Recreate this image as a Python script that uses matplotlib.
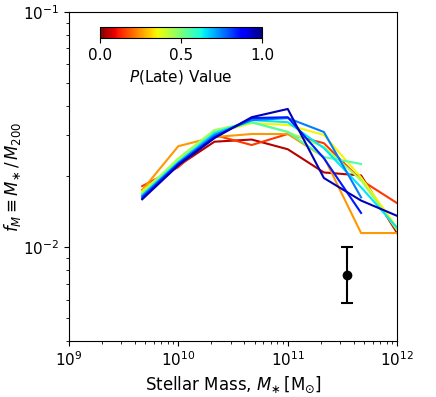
import numpy as np
import matplotlib
matplotlib.use('Agg')
import matplotlib.pyplot as plt
from matplotlib.colors import Normalize
from matplotlib.cm import ScalarMappable

# log10 stellar mass bin centres
log_mass = [9.67, 10.0, 10.33, 10.67, 11.0, 11.33, 11.67, 12.0]

# P(Late) value of each curve
p_late = [0.05, 0.15, 0.25, 0.35, 0.45, 0.55, 0.65, 0.75, 0.85, 0.95]

# f_M per curve (None = no data in that bin)
f_m = [
    [0.0175, 0.0222, 0.0281, 0.0287, 0.0261, 0.0208, 0.0202, 0.0115],
    [0.0182, 0.0219, 0.0300, 0.0272, 0.0303, 0.0277, 0.0193, 0.0154],
    [0.0175, 0.0269, 0.0294, 0.0303, 0.0303, 0.0242, 0.0115, 0.0115],
    [0.0173, 0.0234, 0.0305, 0.0337, 0.0331, 0.0300, 0.0198, 0.0121],
    [0.0170, 0.0239, 0.0315, 0.0340, 0.0309, 0.0267, 0.0193, 0.0118],
    [0.0168, 0.0232, 0.0309, 0.0340, 0.0309, 0.0242, 0.0226, None],
    [0.0166, 0.0230, 0.0305, 0.0347, 0.0340, 0.0264, 0.0180, 0.0121],
    [0.0165, 0.0228, 0.0300, 0.0347, 0.0354, 0.0309, 0.0163, None],
    [0.0162, 0.0226, 0.0294, 0.0354, 0.0357, 0.0239, 0.0140, None],
    [0.0160, 0.0223, 0.0291, 0.0357, 0.0387, 0.0197, 0.0158, 0.0136],
]

# typical error bar
err_mass = 3.5e11
err_val = 0.0076
err_lo = 0.0058
err_hi = 0.0100

fig = plt.figure(figsize=(4.36, 3.97), dpi=100)
ax = fig.add_axes([0.158, 0.141, 0.753, 0.829])

cmap = plt.get_cmap('jet_r')
norm = Normalize(0, 1)
masses = 10 ** np.array(log_mass)

for p, vals in zip(p_late, f_m):
    x = [m for m, v in zip(masses, vals) if v is not None]
    y = [v for v in vals if v is not None]
    ax.plot(x, y, color=cmap(norm(p)), lw=1.5)

ax.errorbar([err_mass], [err_val],
            yerr=[[err_val - err_lo], [err_hi - err_val]],
            fmt='o', color='black', ms=6, lw=1.5, capsize=4, capthick=1.5)

ax.set_xscale('log')
ax.set_yscale('log')
ax.set_xlim(1e9, 1e12)
ax.set_ylim(4e-3, 1e-1)
ax.set_xlabel(r'Stellar Mass, $M_{\ast}\,[\mathrm{M}_{\odot}]$', fontsize=12)
ax.set_ylabel(r'$f_M \equiv M_{\ast}\,/\,M_{200}$', fontsize=12)
ax.yaxis.set_label_coords(-0.14, 0.5)
ax.tick_params(labelsize=11)

cax = fig.add_axes([0.229, 0.904, 0.372, 0.028])
sm = ScalarMappable(norm=norm, cmap=cmap)
cb = fig.colorbar(sm, cax=cax, orientation='horizontal', ticks=[0.0, 0.5, 1.0])
cb.ax.tick_params(labelsize=11)
cb.set_label(r'$P$(Late) Value', fontsize=11)

fig.savefig('out.png', dpi=100)
